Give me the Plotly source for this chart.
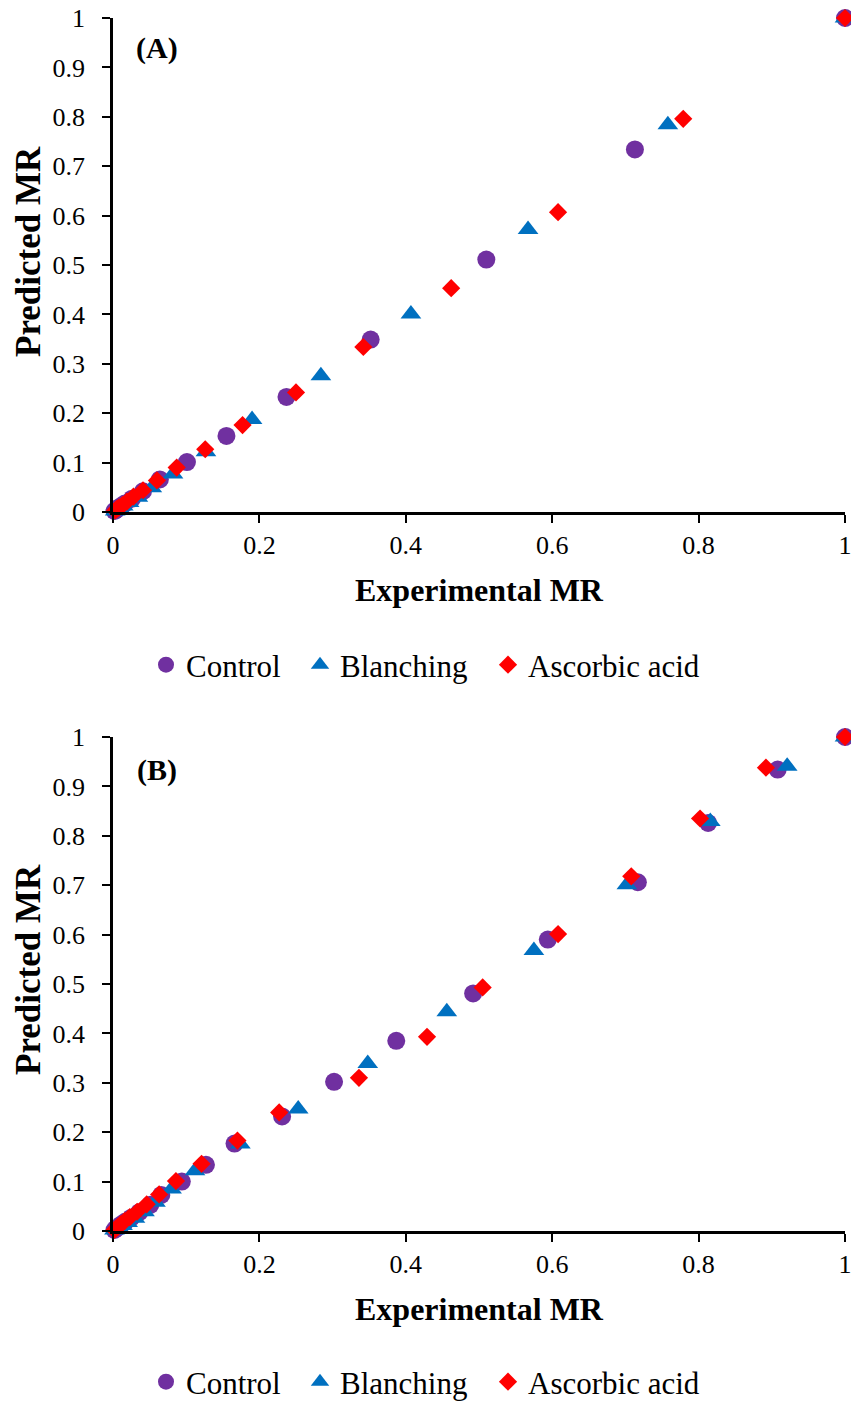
import plotly.graph_objects as go

# Panel A: experimental vs predicted moisture ratio
a_control_exp = [1, 0.713, 0.510, 0.352, 0.237, 0.155, 0.101, 0.064, 0.041, 0.026, 0.016, 0.010, 0.006, 0.004, 0.002]
a_control_pred = [1, 0.734, 0.511, 0.349, 0.233, 0.154, 0.101, 0.066, 0.042, 0.027, 0.017, 0.011, 0.007, 0.004, 0.002]
a_blanch_exp = [1, 0.758, 0.567, 0.407, 0.284, 0.190, 0.127, 0.082, 0.053, 0.034, 0.022, 0.014, 0.009, 0.005, 0.003]
a_blanch_pred = [1, 0.784, 0.572, 0.401, 0.276, 0.187, 0.122, 0.077, 0.049, 0.030, 0.019, 0.012, 0.007, 0.004, 0.002]
a_ascorbic_exp = [1, 0.779, 0.608, 0.462, 0.342, 0.250, 0.177, 0.126, 0.087, 0.060, 0.041, 0.028, 0.019, 0.013, 0.008, 0.005, 0.003]
a_ascorbic_pred = [1, 0.796, 0.607, 0.453, 0.334, 0.242, 0.176, 0.127, 0.090, 0.064, 0.044, 0.031, 0.021, 0.014, 0.009, 0.006, 0.003]

# Panel B
b_control_exp = [1, 0.908, 0.813, 0.717, 0.594, 0.492, 0.387, 0.302, 0.231, 0.166, 0.127, 0.094, 0.066, 0.051, 0.036, 0.025, 0.017, 0.011, 0.007, 0.004, 0.002]
b_control_pred = [1, 0.934, 0.826, 0.706, 0.590, 0.481, 0.385, 0.302, 0.232, 0.177, 0.134, 0.100, 0.073, 0.053, 0.038, 0.027, 0.019, 0.013, 0.008, 0.005, 0.002]
b_blanch_exp = [1, 0.921, 0.816, 0.702, 0.575, 0.456, 0.348, 0.253, 0.174, 0.112, 0.080, 0.058, 0.043, 0.030, 0.020, 0.013, 0.008, 0.005, 0.002]
b_blanch_pred = [1, 0.941, 0.829, 0.701, 0.568, 0.444, 0.339, 0.247, 0.176, 0.122, 0.085, 0.058, 0.039, 0.026, 0.017, 0.011, 0.007, 0.004, 0.002]
b_ascorbic_exp = [1, 0.892, 0.802, 0.708, 0.608, 0.505, 0.429, 0.336, 0.227, 0.170, 0.121, 0.086, 0.063, 0.046, 0.033, 0.023, 0.016, 0.011, 0.007, 0.004, 0.002]
b_ascorbic_pred = [1, 0.938, 0.835, 0.718, 0.601, 0.493, 0.393, 0.310, 0.240, 0.183, 0.136, 0.101, 0.074, 0.054, 0.039, 0.028, 0.020, 0.014, 0.009, 0.005, 0.002]

series_names = ["Control", "Blanching", "Ascorbic acid"]
x_tick_vals = [0, 0.2, 0.4, 0.6, 0.8, 1]
x_tick_text = ["0", "0.2", "0.4", "0.6", "0.8", "1"]
y_tick_vals = [0, 0.1, 0.2, 0.3, 0.4, 0.5, 0.6, 0.7, 0.8, 0.9, 1]
y_tick_text = ["0", "0.1", "0.2", "0.3", "0.4", "0.5", "0.6", "0.7", "0.8", "0.9", "1"]

FONT = "Liberation Serif"
W, H = 851, 1401

styles = [
    dict(symbol="circle", color="#7030A0", size=18),
    dict(symbol="triangle-up", color="#0070C0", size=18),
    dict(symbol="diamond", color="#FF0000", size=14),
]
# one legend per series so each entry sits at its own spot under the panel
legend_left_px = [146, 300, 488]
legend_rows_px = [665, 1382]

panels = [
    ("x", "y", [(a_control_exp, a_control_pred), (a_blanch_exp, a_blanch_pred), (a_ascorbic_exp, a_ascorbic_pred)]),
    ("x2", "y2", [(b_control_exp, b_control_pred), (b_blanch_exp, b_blanch_pred), (b_ascorbic_exp, b_ascorbic_pred)]),
]

fig = go.Figure()
legend_layout = {}
n = 0
for p, (xa, ya, series) in enumerate(panels):
    for k, (name, st, (xs, ys)) in enumerate(zip(series_names, styles, series)):
        n += 1
        leg = "legend" if n == 1 else f"legend{n}"
        fig.add_trace(go.Scatter(
            x=xs, y=ys, mode="markers", name=name,
            xaxis=xa, yaxis=ya, legend=leg, cliponaxis=False,
            marker=dict(symbol=st["symbol"], color=st["color"], size=st["size"], line=dict(width=0)),
        ))
        legend_layout[leg] = dict(
            orientation="h", x=legend_left_px[k] / W, xanchor="left",
            y=(H - legend_rows_px[p]) / H, yanchor="middle",
            font=dict(family=FONT, size=31, color="black"),
            itemwidth=30, bgcolor="rgba(0,0,0,0)",
        )

x_dom = [113 / W, 845 / W]
y_dom_a = [(H - 512) / H, (H - 18) / H]
y_dom_b = [(H - 1231) / H, (H - 737) / H]

axis_common = dict(
    range=[0, 1], showgrid=False, zeroline=False, showline=True,
    linecolor="black", linewidth=2.5, ticks="outside", ticklen=8,
    tickwidth=2, tickcolor="black", ticklabeloverflow="allow",
    tickfont=dict(family=FONT, size=26, color="black"),
)

fig.update_layout(
    width=W, height=H,
    margin=dict(l=0, r=0, t=0, b=0, autoexpand=False),
    paper_bgcolor="white", plot_bgcolor="white",
    font=dict(family=FONT, color="black"),
    xaxis=dict(domain=x_dom, anchor="y", tickvals=x_tick_vals, ticktext=x_tick_text, **axis_common),
    yaxis=dict(domain=y_dom_a, anchor="x", tickvals=y_tick_vals, ticktext=y_tick_text, ticklabelstandoff=12, **axis_common),
    xaxis2=dict(domain=x_dom, anchor="y2", tickvals=x_tick_vals, ticktext=x_tick_text, **axis_common),
    yaxis2=dict(domain=y_dom_b, anchor="x2", tickvals=y_tick_vals, ticktext=y_tick_text, ticklabelstandoff=12, **axis_common),
    showlegend=True,
    **legend_layout,
)

title_font = dict(family=FONT, size=32, color="black")
ytitle_font = dict(family=FONT, size=35, color="black")
label_font = dict(family=FONT, size=30, color="black")
annotations = [
    dict(text="<b>(A)</b>", x=157 / W, y=(H - 48) / H, font=label_font),
    dict(text="<b>(B)</b>", x=157 / W, y=(H - 770) / H, font=label_font),
    dict(text="<b>Experimental MR</b>", x=479 / W, y=(H - 590) / H, font=title_font),
    dict(text="<b>Experimental MR</b>", x=479 / W, y=(H - 1309) / H, font=title_font),
    dict(text="<b>Predicted MR</b>", x=28 / W, y=(H - 252) / H, textangle=-90, font=ytitle_font),
    dict(text="<b>Predicted MR</b>", x=28 / W, y=(H - 970) / H, textangle=-90, font=ytitle_font),
]
for ann in annotations:
    fig.add_annotation(xref="paper", yref="paper", showarrow=False,
                       xanchor="center", yanchor="middle", **ann)

fig.write_html("out.html")
